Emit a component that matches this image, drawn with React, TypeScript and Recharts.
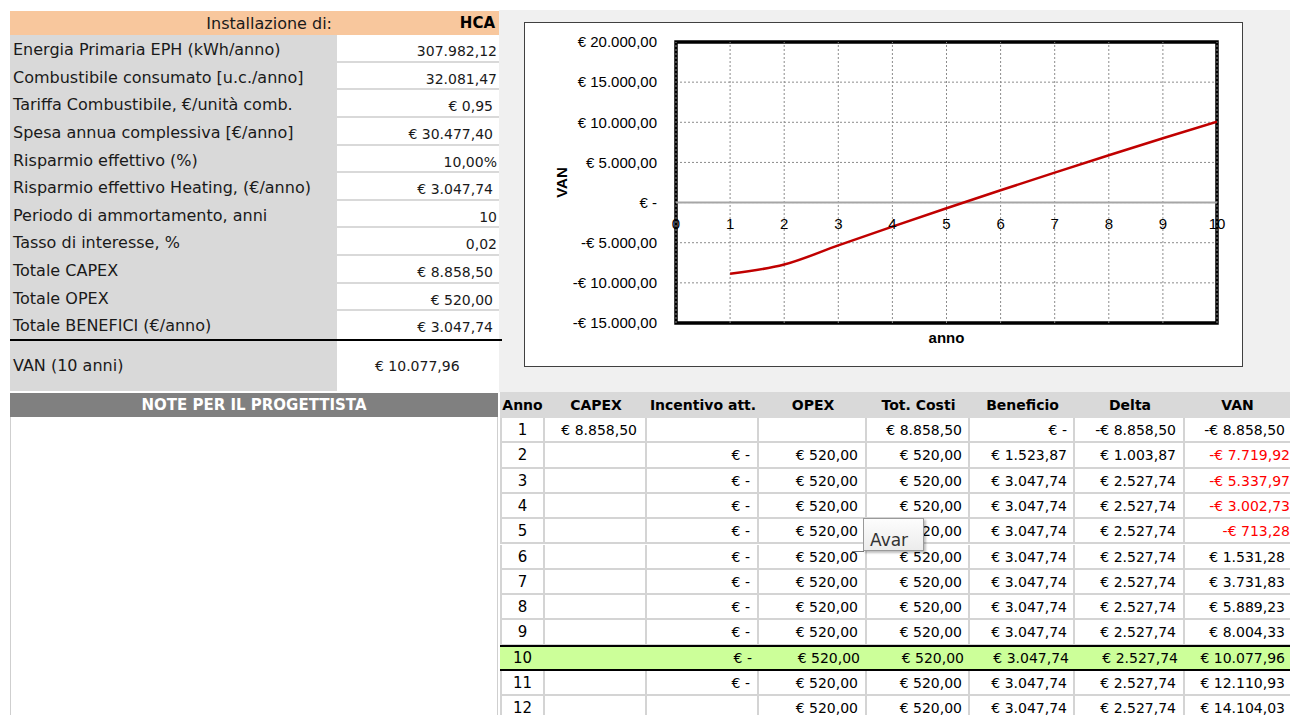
import React from 'react';
import { LineChart, Line, XAxis, YAxis, CartesianGrid, ReferenceLine, ReferenceArea, LabelList } from 'recharts';

// ---------- DATA ----------
const installLabel = 'Installazione di:';
const installValue = 'HCA';
const paramLabels = [
  'Energia Primaria EPH (kWh/anno)',
  'Combustibile consumato [u.c./anno]',
  'Tariffa Combustibile, €/unità comb.',
  'Spesa annua complessiva [€/anno]',
  'Risparmio effettivo (%)',
  'Risparmio effettivo Heating, (€/anno)',
  'Periodo di ammortamento, anni',
  'Tasso di interesse, %',
  'Totale CAPEX',
  'Totale OPEX',
  'Totale BENEFICI (€/anno)',
];
const paramValues = [
  '307.982,12',
  '32.081,47',
  '€ 0,95',
  '€ 30.477,40',
  '10,00%',
  '€ 3.047,74',
  '10',
  '0,02',
  '€ 8.858,50',
  '€ 520,00',
  '€ 3.047,74',
];
const vanLabel = 'VAN (10 anni)';
const vanTotal = '€ 10.077,96';
const noteTitle = 'NOTE PER IL PROGETTISTA';

const tableHeaders = ['Anno', 'CAPEX', 'Incentivo att.', 'OPEX', 'Tot. Costi', 'Beneficio', 'Delta', 'VAN'];
const years = [1, 2, 3, 4, 5, 6, 7, 8, 9, 10, 11, 12];
const capex: (number | null)[] = [8858.5, null, null, null, null, null, null, null, null, null, null, null];
const incentivo: (number | null)[] = [null, 0, 0, 0, 0, 0, 0, 0, 0, 0, 0, null];
const opex: (number | null)[] = [null, 520, 520, 520, 520, 520, 520, 520, 520, 520, 520, 520];
const totCosti = [8858.5, 520, 520, 520, 520, 520, 520, 520, 520, 520, 520, 520];
const beneficio = [0, 1523.87, 3047.74, 3047.74, 3047.74, 3047.74, 3047.74, 3047.74, 3047.74, 3047.74, 3047.74, 3047.74];
const delta = [-8858.5, 1003.87, 2527.74, 2527.74, 2527.74, 2527.74, 2527.74, 2527.74, 2527.74, 2527.74, 2527.74, 2527.74];
const van = [-8858.5, -7719.92, -5337.97, -3002.73, -713.28, 1531.28, 3731.83, 5889.23, 8004.33, 10077.96, 12110.93, 14104.03];
const redVanYears = [2, 3, 4, 5];
const highlightYear = 10;
const chartYears = 10;

const xTicks = [0, 1, 2, 3, 4, 5, 6, 7, 8, 9, 10];
const yTicks = [-15000, -10000, -5000, 0, 5000, 10000, 15000, 20000];
const yAxisTitle = 'VAN';
const xAxisTitle = 'anno';
const tooltipText = 'Avar';

// ---------- HELPERS ----------
const fmt = (v: number | null): string => {
  if (v === null || v === undefined) return '';
  if (v === 0) return '€ -';
  const parts = Math.abs(v).toFixed(2).split('.');
  const int = parts[0].replace(/\B(?=(\d{3})+(?!\d))/g, '.');
  return (v < 0 ? '-' : '') + '€ ' + int + ',' + parts[1];
};

const FONT = '"DejaVu Sans", "Noto Sans", sans-serif';
const CHART_FONT = '"Liberation Sans", Arial, sans-serif';

const vanChartData = years.slice(0, chartYears).map((y, i) => ({ anno: y, van: van[i] }));
const axisLabelData = xTicks.map((t) => ({ anno: t, zero: 0 }));

// layout
const RH = 27.64;
const colEdges = [500, 545, 647, 759, 867, 970, 1075, 1185, 1290];
const colPad = [0, 10, 9, 9, 8, 8, 9, 5];
const TOP0 = 418;
const RH2 = 25.3;
const GRID = '#d4d4d4';

export default function App() {
  const tableCols: (number | null)[][] = [capex, incentivo, opex, totCosti, beneficio, delta, van];
  return (
    <div
      style={{
        position: 'absolute',
        left: 0,
        top: 0,
        width: 1290,
        height: 715,
        overflow: 'hidden',
        background: '#fff',
        fontFamily: FONT,
        color: '#1a1a1a',
      }}
    >
      {/* gray sheet area around chart */}
      <div style={{ position: 'absolute', left: 499, top: 10, width: 791, height: 382, background: '#f0f0f0' }} />

      {/* header row */}
      <div style={{ position: 'absolute', left: 10, top: 11, width: 489, height: 24, background: '#f8c79d' }} />
      <div style={{ position: 'absolute', left: 10, top: 11, width: 322, height: 24, lineHeight: '25px', fontSize: 16, textAlign: 'right', whiteSpace: 'nowrap' }}>
        {installLabel}
      </div>
      <div style={{ position: 'absolute', left: 337, top: 11, width: 158, height: 24, lineHeight: '25px', fontSize: 15, fontWeight: 'bold', textAlign: 'right', color: '#000' }}>
        {installValue}
      </div>

      {/* label column */}
      <div style={{ position: 'absolute', left: 10, top: 35, width: 327, height: 356, background: '#d9d9d9' }} />
      {paramLabels.map((lab, i) => (
        <React.Fragment key={i}>
          <div style={{ position: 'absolute', left: 13, top: 35 + i * RH + 1, height: RH, lineHeight: RH + 'px', fontSize: 16, whiteSpace: 'nowrap' }}>
            {lab}
          </div>
          <div
            style={{
              position: 'absolute',
              left: 337,
              top: 35 + i * RH,
              width: 162,
              height: RH,
              boxSizing: 'border-box',
              background: '#fff',
              borderBottom: i < paramLabels.length - 1 ? '2px solid #d9d9d9' : 'none',
              textAlign: 'right',
              paddingRight: paramValues[i].startsWith('€') ? 6 : 2,
              lineHeight: RH + 'px',
              paddingTop: 3,
              fontSize: 14,
              whiteSpace: 'nowrap',
            }}
          >
            {paramValues[i]}
          </div>
        </React.Fragment>
      ))}
      <div style={{ position: 'absolute', left: 10, top: 339, width: 492, height: 2, background: '#000' }} />
      <div style={{ position: 'absolute', left: 337, top: 341, width: 161, height: 50, background: '#fff' }} />
      <div style={{ position: 'absolute', left: 13, top: 342, height: 48, lineHeight: '48px', fontSize: 16 }}>{vanLabel}</div>
      <div style={{ position: 'absolute', left: 375, top: 342, height: 48, lineHeight: '48px', fontSize: 14 }}>{vanTotal}</div>

      {/* note header */}
      <div
        style={{
          position: 'absolute',
          left: 10,
          top: 393,
          width: 488,
          height: 24,
          background: '#808080',
          color: '#fff',
          fontWeight: 'bold',
          fontSize: 15,
          lineHeight: '25px',
          textAlign: 'center',
        }}
      >
        {noteTitle}
      </div>
      <div style={{ position: 'absolute', left: 10, top: 417, width: 488, height: 300, borderLeft: '1px solid #cfcfcf', borderRight: '1px solid #cfcfcf', boxSizing: 'border-box' }} />

      {/* bottom table header */}
      <div style={{ position: 'absolute', left: 500, top: 392, width: 790, height: 26, background: '#d9d9d9' }} />
      {tableHeaders.map((h, c) => (
        <div
          key={h}
          style={{
            position: 'absolute',
            left: colEdges[c],
            top: 392,
            width: colEdges[c + 1] - colEdges[c],
            height: 26,
            lineHeight: '27px',
            textAlign: 'center',
            fontWeight: 'bold',
            fontSize: 14,
            color: '#000',
            whiteSpace: 'nowrap',
          }}
        >
          {h}
        </div>
      ))}

      {/* bottom table rows */}
      {years.map((y, r) => {
        const hl = y === highlightYear;
        const top = TOP0 + r * RH2;
        return (
          <React.Fragment key={y}>
            {colEdges.slice(0, -1).map((x, c) => {
              const w = colEdges[c + 1] - x;
              let text = '';
              if (c === 0) text = String(y);
              else text = fmt(tableCols[c - 1][r]);
              const red = c === 7 && redVanYears.includes(y);
              return (
                <div
                  key={c}
                  style={{
                    position: 'absolute',
                    left: x,
                    top,
                    width: w,
                    height: RH2,
                    boxSizing: 'border-box',
                    background: hl ? '#ccff99' : '#fff',
                    borderRight: !hl && c < 7 ? `2px solid ${GRID}` : 'none',
                    borderLeft: !hl && c === 0 ? `2px solid ${GRID}` : 'none',
                    borderBottom: `2px solid ${GRID}`,
                    textAlign: c === 0 ? 'center' : 'right',
                    paddingRight: c === 0 ? 0 : red ? 0 : colPad[c] - (c < 7 ? 2 : 0),
                    lineHeight: RH2 + 'px',
                    fontSize: c === 0 ? 15 : 14,
                    color: red ? '#ff0000' : '#000',
                    whiteSpace: 'nowrap',
                    overflow: 'hidden',
                  }}
                >
                  {text}
                </div>
              );
            })}
            {hl && (
              <>
                <div style={{ position: 'absolute', left: 500, top: top - 1, width: 790, height: 2, background: '#000' }} />
                <div style={{ position: 'absolute', left: 500, top: top + RH2 - 2, width: 790, height: 2, background: '#000' }} />
              </>
            )}
          </React.Fragment>
        );
      })}

      {/* comment tooltip */}
      <div style={{ position: 'absolute', left: 852, top: 551, width: 12, height: 1, background: '#777' }} />
      <div
        style={{
          position: 'absolute',
          left: 863,
          top: 518,
          width: 61,
          height: 33,
          boxSizing: 'border-box',
          background: 'linear-gradient(#fdfdfd, #ececec)',
          border: '1px solid #9a9a9a',
          boxShadow: '2px 2px 2px rgba(0,0,0,0.25)',
          fontSize: 17,
          lineHeight: '42px',
          paddingLeft: 6,
          color: '#333',
          overflow: 'hidden',
        }}
      >
        {tooltipText}
      </div>

      {/* chart */}
      <div
        style={{
          position: 'absolute',
          left: 524,
          top: 22,
          width: 719,
          height: 345,
          background: '#fff',
          border: '1px solid #404040',
          boxSizing: 'border-box',
        }}
      >
        <LineChart width={717} height={343} margin={{ top: 19, right: 25, bottom: 13, left: 0 }}>
          <CartesianGrid stroke="#8c8c8c" strokeDasharray="2 2" vertical={false} />
          <XAxis
            type="number"
            dataKey="anno"
            domain={[0, 10]}
            ticks={xTicks}
            tick={false}
            axisLine={false}
            tickLine={false}
            height={30}
            allowDataOverflow
            label={{ value: xAxisTitle, position: 'center', style: { fontWeight: 'bold', fontSize: 15, fill: '#000', fontFamily: CHART_FONT } }}
          />
          <YAxis
            type="number"
            domain={[-15000, 20000]}
            ticks={yTicks}
            tickFormatter={(v: number) => fmt(v)}
            width={151}
            axisLine={false}
            tickLine={false}
            tickMargin={13}
            allowDataOverflow
            tick={{ fontSize: 15, fill: '#000', fontFamily: CHART_FONT }}
            label={{
              value: yAxisTitle,
              angle: -90,
              position: 'insideLeft',
              offset: 37,
              style: { textAnchor: 'middle', fontWeight: 'bold', fontSize: 15, fill: '#000', fontFamily: CHART_FONT },
            }}
          />
          {xTicks.map((t) => (
            <ReferenceLine key={'vx' + t} x={t} stroke="#8c8c8c" strokeDasharray="2 2" />
          ))}
          <ReferenceLine y={0} stroke="#a6a6a6" strokeWidth={2} />
          <ReferenceArea x1={0} x2={10} y1={-15000} y2={20000} fill="none" fillOpacity={0} stroke="#000" strokeWidth={3.5} />
          <Line data={axisLabelData} dataKey="zero" stroke="none" dot={false} activeDot={false} isAnimationActive={false}>
            <LabelList dataKey="anno" position="bottom" offset={16} style={{ fontSize: 15, fill: '#000', fontFamily: CHART_FONT }} />
          </Line>
          <Line
            data={vanChartData}
            dataKey="van"
            type="monotone"
            stroke="#c00000"
            strokeWidth={2.5}
            dot={false}
            activeDot={false}
            isAnimationActive={false}
          />
        </LineChart>
      </div>
    </div>
  );
}
